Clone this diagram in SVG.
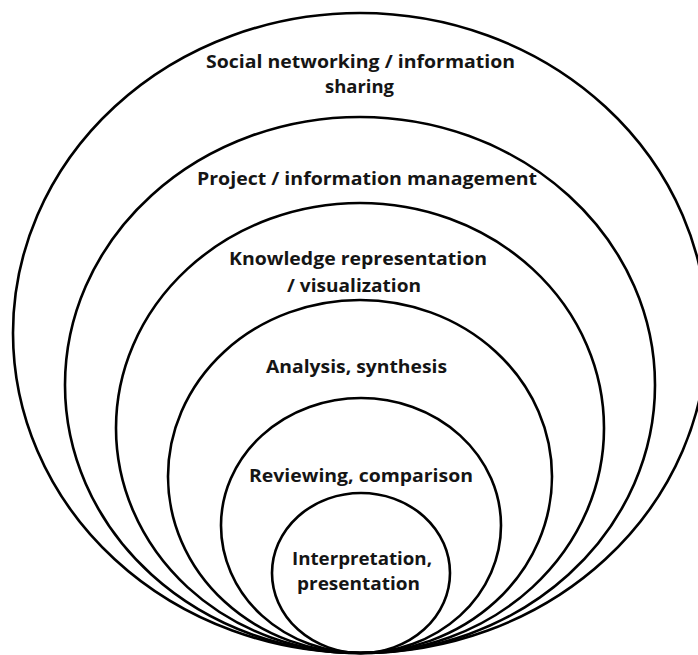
<svg xmlns="http://www.w3.org/2000/svg" width="698" height="655" viewBox="0 0 698 655">
<style>
.ring{fill:none;stroke:#000;stroke-width:2.6}
.lbl{font-family:"Open Sans","Liberation Sans",sans-serif;font-weight:700;font-size:18px;fill:#151515;text-anchor:middle}
</style>
<rect width="698" height="655" fill="#fff"/>
<g id="social">
<ellipse class="ring" cx="360" cy="333" rx="347" ry="320"/>
<text class="lbl" x="360.5" y="68" textLength="309" lengthAdjust="spacingAndGlyphs">Social networking / information</text>
<text class="lbl" x="359.5" y="93" textLength="69" lengthAdjust="spacingAndGlyphs">sharing</text>
</g>
<g id="project">
<ellipse class="ring" cx="360" cy="385" rx="295" ry="268"/>
<text class="lbl" x="367" y="185" textLength="340" lengthAdjust="spacingAndGlyphs">Project / information management</text>
</g>
<g id="knowledge">
<ellipse class="ring" cx="360" cy="428" rx="244" ry="225"/>
<text class="lbl" x="358" y="265" textLength="258" lengthAdjust="spacingAndGlyphs">Knowledge representation</text>
<text class="lbl" x="354" y="292" textLength="134" lengthAdjust="spacingAndGlyphs">/ visualization</text>
</g>
<g id="analysis">
<ellipse class="ring" cx="360" cy="476.5" rx="192" ry="176.5"/>
<text class="lbl" x="356.5" y="373" textLength="181" lengthAdjust="spacingAndGlyphs">Analysis, synthesis</text>
</g>
<g id="reviewing">
<ellipse class="ring" cx="361" cy="525.5" rx="140" ry="127.5"/>
<text class="lbl" x="361" y="482" textLength="224" lengthAdjust="spacingAndGlyphs">Reviewing, comparison</text>
</g>
<g id="interpretation">
<ellipse class="ring" cx="361" cy="573" rx="89" ry="80"/>
<text class="lbl" x="362" y="565" textLength="140" lengthAdjust="spacingAndGlyphs">Interpretation,</text>
<text class="lbl" x="358.5" y="590" textLength="123" lengthAdjust="spacingAndGlyphs">presentation</text>
</g>
<g id="connectors"/>
</svg>
